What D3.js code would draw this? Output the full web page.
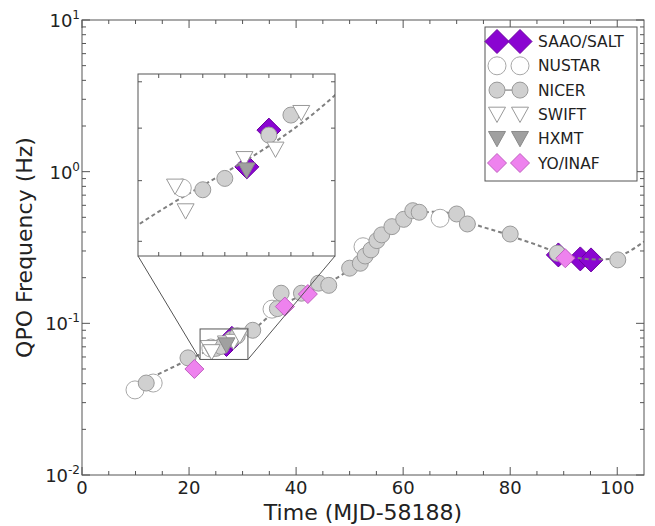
<!DOCTYPE html>
<html><head><meta charset="utf-8">
<script src="https://cdn.jsdelivr.net/npm/d3@7"></script>
<style>body{margin:0;background:#fff}text{font-family:"DejaVu Sans",sans-serif;fill:#222}</style>
</head><body><svg id="c" width="655" height="526"></svg>
<script>
// ---- data ----
const saaoT = [27.0, 28.0, 89.0, 93.1, 95.1];
const saaoF = [0.0725, 0.0796, 0.2825, 0.266, 0.262];
const nustarT = [9.9, 13.3, 24.07, 35.5, 52.5, 66.9];
const nustarF = [0.0364, 0.0404, 0.0687, 0.124, 0.32, 0.493];
const nicerT = [12.0, 19.8, 25.0, 26.0, 28.0, 29.0, 31.9, 36.5, 37.2, 41.0, 44.2, 46.1, 50.0, 52.0, 52.9, 54.0, 55.1, 56.0, 57.9, 60.1, 61.8, 63.0, 70.0, 72.0, 80.0, 88.8, 100.1];
const nicerF = [0.0404, 0.0592, 0.0684, 0.0704, 0.0786, 0.0827, 0.090, 0.125, 0.158, 0.158, 0.184, 0.178, 0.231, 0.249, 0.278, 0.305, 0.351, 0.383, 0.434, 0.485, 0.553, 0.540, 0.526, 0.452, 0.388, 0.29, 0.262];
const swiftT = [23.74, 24.22, 26.89, 28.3, 29.47];
const swiftF = [0.0690, 0.0648, 0.0740, 0.0758, 0.0832];
const hxmtT = [26.99];
const hxmtF = [0.0719];
const yoT = [21.0, 37.9, 42.2, 90.3];
const yoF = [0.050, 0.129, 0.156, 0.2686];
const trendT = [13, 22, 31, 33, 35, 38, 42, 45, 48.5, 51, 54, 57, 60, 63, 66, 69, 72, 75, 78, 82, 85, 88, 92, 96, 99, 102, 105];
const trendF = [0.044, 0.0624, 0.087, 0.097, 0.112, 0.135, 0.158, 0.18, 0.208, 0.245, 0.30, 0.38, 0.46, 0.53, 0.545, 0.53, 0.47, 0.43, 0.40, 0.357, 0.329, 0.30, 0.272, 0.264, 0.266, 0.295, 0.346];
const xTicks = [0, 20, 40, 60, 80, 100];
const yTicks = [0.01, 0.1, 1, 10];
const yExp = ["-2", "-1", "0", "1"];
const zoomT = [22.06, 31.0];
const zoomF = [0.0578, 0.0918];
const legendNames = ["SAAO/SALT", "NUSTAR", "NICER", "SWIFT", "HXMT", "YO/INAF"];

// ---- styles ----
const styles = {
  "SAAO/SALT": {shape: "diamond", s: 12, fill: "#8a05d1", stroke: "#6a00a0"},
  "NUSTAR": {shape: "circle", s: 9, fill: "#ffffff", stroke: "#a8a8a8"},
  "NICER": {shape: "circle", s: 8, fill: "#d0d0d0", stroke: "#9a9a9a"},
  "SWIFT": {shape: "tri", s: 8.5, fill: "#ffffff", stroke: "#999999"},
  "HXMT": {shape: "tri", s: 8.5, fill: "#a0a0a0", stroke: "#8a8a8a"},
  "YO/INAF": {shape: "diamond", s: 9.5, fill: "#ee82ee", stroke: "#c060c0"}
};
const series = [
  {name: "SAAO/SALT", t: saaoT, f: saaoF},
  {name: "NUSTAR", t: nustarT, f: nustarF},
  {name: "NICER", t: nicerT, f: nicerF},
  {name: "SWIFT", t: swiftT, f: swiftF},
  {name: "HXMT", t: hxmtT, f: hxmtF},
  {name: "YO/INAF", t: yoT, f: yoF}
];
function shapePath(st) {
  const s = st.s;
  if (st.shape === "diamond") return `M0,${-s}L${s},0L0,${s}L${-s},0Z`;
  if (st.shape === "tri") return `M${-s},${-s*0.85}L${s},${-s*0.85}L0,${s*0.95}Z`;
  return d3.symbol(d3.symbolCircle, Math.PI * s * s)();
}

const svg = d3.select("#c");
const L = 82, R = 644, T = 20, B = 475;
const x = d3.scaleLinear().domain([0, 105]).range([L, R]);
const y = d3.scaleLog().domain([0.01, 10]).range([B, T]);

svg.append("defs").append("clipPath").attr("id", "mainclip")
  .append("rect").attr("x", L).attr("y", T).attr("width", R - L).attr("height", B - T);

const axisColor = "#555";
function drawFrame(g, xs, ys, xMaj, xMin, yMaj, yMin, majLen, minLen) {
  const [x0, x1] = xs.range(); const [y0, y1] = ys.range();
  const top = Math.min(y0, y1), bot = Math.max(y0, y1);
  xMaj.forEach(v => { [[bot, -majLen], [top, majLen]].forEach(([yy, d]) => g.append("line").attr("x1", xs(v)).attr("x2", xs(v)).attr("y1", yy).attr("y2", yy + d).attr("stroke", axisColor)); });
  xMin.forEach(v => { [[bot, -minLen], [top, minLen]].forEach(([yy, d]) => g.append("line").attr("x1", xs(v)).attr("x2", xs(v)).attr("y1", yy).attr("y2", yy + d).attr("stroke", axisColor)); });
  yMaj.forEach(v => { [[x0, majLen], [x1, -majLen]].forEach(([xx, d]) => g.append("line").attr("y1", ys(v)).attr("y2", ys(v)).attr("x1", xx).attr("x2", xx + d).attr("stroke", axisColor)); });
  yMin.forEach(v => { [[x0, minLen], [x1, -minLen]].forEach(([xx, d]) => g.append("line").attr("y1", ys(v)).attr("y2", ys(v)).attr("x1", xx).attr("x2", xx + d).attr("stroke", axisColor)); });
  g.append("rect").attr("x", x0).attr("y", top).attr("width", x1 - x0).attr("height", bot - top)
    .attr("fill", "none").attr("stroke", axisColor).attr("stroke-width", 1);
}

// main ticks
const xMinor = d3.range(5, 105, 5).filter(v => v % 20 !== 0);
const yMinor = [];
[0.01, 0.1, 1].forEach(d => { for (let k = 2; k <= 9; k++) yMinor.push(d * k); });

// trend line generator
const line = (xs, ys) => d3.line().x(d => xs(d[0])).y(d => ys(d[1])).curve(d3.curveMonotoneX);
const trendData = trendT.map((t, i) => [t, trendF[i]]);

function drawSeries(g, xs, ys) {
  series.forEach((s, si) => {
    const st = styles[s.name];
    g.selectAll(null).data(s.t.map((t, i) => [t, s.f[i]])).enter().append("path")
      .attr("d", shapePath(st)).attr("transform", d => `translate(${xs(d[0])},${ys(d[1])})`)
      .attr("fill", st.fill).attr("stroke", st.stroke).attr("stroke-width", 1);
    if (si === 0) {
      g.append("path").datum(trendData).attr("d", line(xs, ys)).attr("fill", "none")
        .attr("stroke", "#808080").attr("stroke-width", 2).attr("stroke-dasharray", "4,3");
    }
  });
}

const main = svg.append("g").attr("clip-path", "url(#mainclip)");
drawSeries(main, x, y);

drawFrame(svg.append("g"), x, y, xTicks, xMinor, yTicks, yMinor, 8, 4);

// tick labels
svg.append("g").selectAll("text").data(xTicks).enter().append("text")
  .attr("x", d => x(d)).attr("y", B + 19).attr("text-anchor", "middle").attr("font-size", 18).text(d => d);
const yl = svg.append("g").selectAll("text").data(yTicks).enter().append("text")
  .attr("x", L - 2).attr("y", d => y(d) + 7).attr("text-anchor", "end").attr("font-size", 18);
yl.append("tspan").text("10");
yl.append("tspan").attr("dy", -8).attr("font-size", 12).text((d, i) => yExp[i]);

// axis titles
svg.append("text").attr("x", (L + R) / 2).attr("y", 520).attr("text-anchor", "middle").attr("font-size", 22).text("Time (MJD-58188)");
svg.append("text").attr("transform", `translate(32,${(T + B) / 2}) rotate(-90)`).attr("text-anchor", "middle").attr("font-size", 22).text("QPO Frequency (Hz)");

// zoom box and connectors
const ix = d3.scaleLinear().domain(zoomT).range([138, 335]);
const iy = d3.scaleLog().domain(zoomF).range([256, 74]);
const bx0 = x(zoomT[0]), bx1 = x(zoomT[1]), by0 = y(zoomF[1]), by1 = y(zoomF[0]);
svg.append("rect").attr("x", bx0).attr("y", by0).attr("width", bx1 - bx0).attr("height", by1 - by0)
  .attr("fill", "none").attr("stroke", "#555");
svg.append("line").attr("x1", 138).attr("y1", 256).attr("x2", bx0).attr("y2", by1).attr("stroke", "#555");
svg.append("line").attr("x1", 335).attr("y1", 256).attr("x2", bx1).attr("y2", by1).attr("stroke", "#555");

// inset
svg.select("defs").append("clipPath").attr("id", "insetclip")
  .append("rect").attr("x", 138).attr("y", 74).attr("width", 197).attr("height", 182);
svg.append("rect").attr("x", 138).attr("y", 74).attr("width", 197).attr("height", 182).attr("fill", "#fff");
const inset = svg.append("g").attr("clip-path", "url(#insetclip)");
drawSeries(inset, ix, iy);
drawFrame(svg.append("g"), ix, iy, [], d3.range(23, 31), [], [0.06, 0.07, 0.08, 0.09], 8, 4);

// legend
const lg = svg.append("g");
lg.append("rect").attr("x", 485).attr("y", 27).attr("width", 152).attr("height", 154)
  .attr("fill", "#fff").attr("stroke", "#555");
legendNames.forEach((n, i) => {
  const st = styles[n];
  const yy = 41.5 + i * 24.3;
  if (n === "NICER") lg.append("line").attr("x1", 497).attr("x2", 520).attr("y1", yy).attr("y2", yy).attr("stroke", "#9a9a9a").attr("stroke-width", 1.5);
  [497, 520].forEach(xx => lg.append("path").attr("d", shapePath(st)).attr("transform", `translate(${xx},${yy})`)
    .attr("fill", st.fill).attr("stroke", st.stroke));
  lg.append("text").attr("x", 538).attr("y", yy + 5.5).attr("font-size", 15.5).text(n);
});
</script></body></html>
